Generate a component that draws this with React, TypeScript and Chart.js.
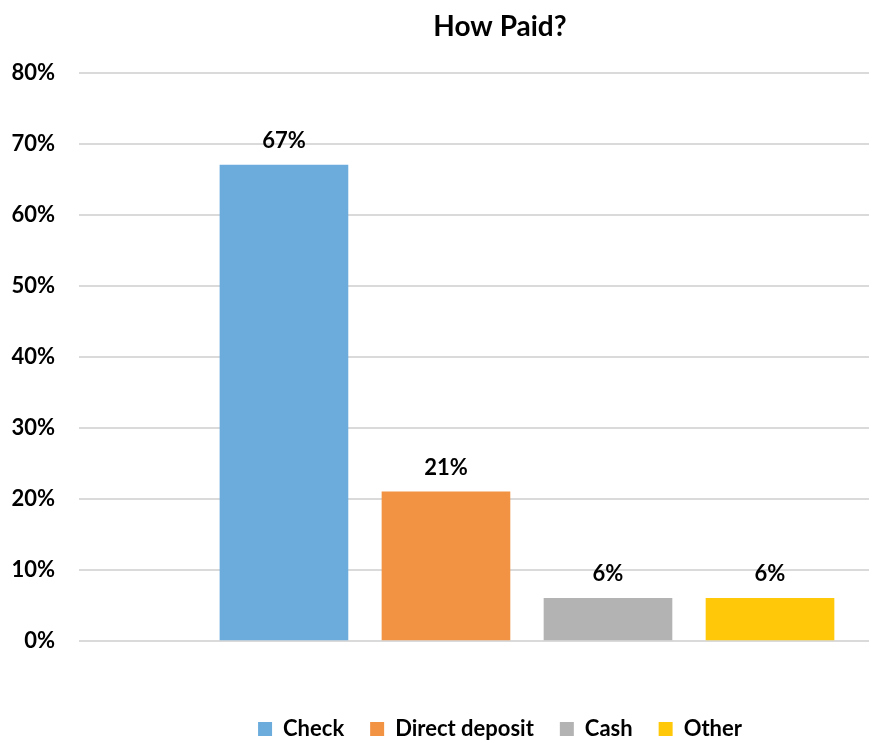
import React, { useEffect, useRef } from 'react';
import { Chart, registerables } from 'chart.js';

Chart.register(...registerables);

const chartTitle = 'How Paid?';
const categories = ['Check', 'Direct deposit', 'Cash', 'Other'];
const values = [0.67, 0.21, 0.06, 0.06];
const positions = [1, 2, 3, 4];
const colors = ['#6CACDC', '#F29343', '#B3B3B3', '#FFC90A'];
const yMin = 0;
const yMax = 0.8;
const yStep = 0.1;
const xMin = -0.265;
const xMax = 4.611;

const FONT = 'Lato, "Open Sans", sans-serif';

const pct = (v: number) => Math.round(v * 100) + '%';

const valueLabels = {
  id: 'valueLabels',
  afterDatasetsDraw(chart: any) {
    const ctx = chart.ctx;
    ctx.save();
    ctx.font = `bold 22px ${FONT}`;
    ctx.fillStyle = '#000';
    ctx.textAlign = 'center';
    ctx.textBaseline = 'middle';
    chart.data.datasets.forEach((ds: any, i: number) => {
      const meta = chart.getDatasetMeta(i);
      meta.data.forEach((el: any, j: number) => {
        const v = ds.data[j].y;
        ctx.fillText(pct(v), el.x, el.y - 24);
      });
    });
    ctx.restore();
  },
};

export default function App() {
  const ref = useRef<HTMLCanvasElement | null>(null);

  useEffect(() => {
    if (!ref.current) return;
    const chart = new Chart(ref.current, {
      type: 'bar',
      data: {
        datasets: categories.map((c, i) => ({
          label: c,
          data: [{ x: positions[i], y: values[i] }],
          backgroundColor: colors[i],
          borderWidth: 0,
          barThickness: 128,
          grouped: false,
        })),
      },
      options: {
        animation: false,
        responsive: false,
        devicePixelRatio: 1,
        layout: { padding: { top: 0, bottom: -10, left: 0, right: 0 } },
        plugins: {
          title: {
            display: true,
            text: chartTitle,
            color: '#000',
            font: { family: FONT, size: 28, weight: 'bold' },
            padding: { top: 10, bottom: 29 },
          },
          legend: {
            position: 'bottom',
            labels: {
              boxWidth: 14,
              boxHeight: 14,
              padding: 26,
              color: '#000',
              font: { family: FONT, size: 22, weight: 'bold' },
            },
          },
          tooltip: { enabled: false },
        },
        scales: {
          x: {
            type: 'linear',
            min: xMin,
            max: xMax,
            offset: false,
            display: true,
            grid: { display: false, offset: false },
            border: { display: false },
            ticks: { display: false },
            afterFit: (s: any) => {
              s.height = 51;
            },
          },
          y: {
            type: 'linear',
            position: 'left',
            min: yMin,
            max: yMax,
            grid: { color: '#DADADA', lineWidth: 2, drawTicks: false },
            border: { display: false },
            ticks: {
              stepSize: yStep,
              padding: 24,
              color: '#000',
              font: { family: FONT, size: 22, weight: 'bold' },
              callback: (v: any) => pct(Number(v)),
            },
            afterFit: (s: any) => {
              s.width = 79;
            },
          },
          yR: {
            type: 'linear',
            position: 'right',
            display: true,
            grid: { display: false },
            border: { display: false },
            ticks: { display: false },
            afterFit: (s: any) => {
              s.width = 131;
            },
          },
        },
      },
      plugins: [valueLabels],
    } as any);
    return () => chart.destroy();
  }, []);

  return (
    <div
      style={{
        position: 'fixed',
        left: 0,
        top: 0,
        width: 877,
        height: 740,
        overflow: 'hidden',
        background: '#fff',
      }}
    >
      <canvas ref={ref} width={1000} height={740} style={{ width: 1000, height: 740, display: 'block' }} />
    </div>
  );
}
